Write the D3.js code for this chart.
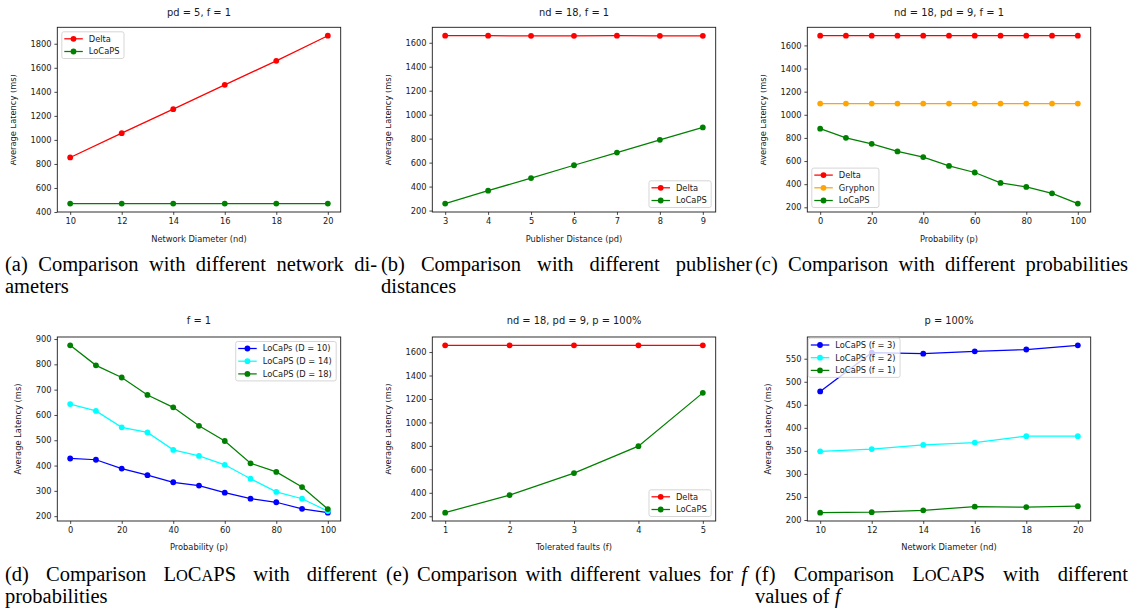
<!DOCTYPE html>
<html>
<head>
<meta charset="utf-8">
<script src="https://cdn.jsdelivr.net/npm/d3@7"></script>
<style>
  body { margin: 0; background: #fff; }
</style>
</head>
<body>
<svg id="fig" width="1135" height="610"></svg>
<script>
// ---- data ----
var ndValues = [10, 12, 14, 16, 18, 20];
var deltaByNd = [854, 1056, 1256, 1458, 1658, 1867];
var locapsByNd = [470, 470, 470, 470, 470, 470];

var pdValues = [3, 4, 5, 6, 7, 8, 9];
var deltaByPd = [1659, 1659, 1658, 1658, 1659, 1658, 1658];
var locapsByPd = [258, 366, 471, 578, 684, 790, 894];

var probValues = [0, 10, 20, 30, 40, 50, 60, 70, 80, 90, 100];
var deltaByProb = [1684, 1684, 1684, 1684, 1684, 1684, 1684, 1684, 1684, 1684, 1684];
var gryphonByProb = [1097, 1097, 1097, 1097, 1097, 1097, 1097, 1097, 1097, 1097, 1097];
var locapsByProb = [880, 801, 749, 683, 634, 558, 501, 411, 376, 321, 232];

var locapsD10 = [428, 423, 388, 362, 334, 321, 293, 269, 255, 229, 214];
var locapsD14 = [643, 616, 551, 531, 462, 438, 403, 348, 296, 269, 220];
var locapsD18 = [875, 796, 748, 679, 630, 557, 497, 409, 375, 315, 228];

var faultValues = [1, 2, 3, 4, 5];
var deltaByFault = [1657, 1657, 1657, 1657, 1657];
var locapsByFault = [231, 381, 568, 798, 1252];

var locapsF3 = [479, 563, 561, 566, 570, 579];
var locapsF2 = [349, 354, 363, 368, 382, 382];
var locapsF1 = [216, 217, 221, 229, 228, 230];

// tick labels
var ndTicks = [10, 12, 14, 16, 18, 20];
var pdTicks = [3, 4, 5, 6, 7, 8, 9];
var probTicks = [0, 20, 40, 60, 80, 100];
var faultTicks = [1, 2, 3, 4, 5];
var yTicks200 = [400, 600, 800, 1000, 1200, 1400, 1600, 1800];
var yTicksPd = [200, 400, 600, 800, 1000, 1200, 1400, 1600];
var yTicksD = [200, 300, 400, 500, 600, 700, 800, 900];
var yTicksF = [200, 250, 300, 350, 400, 450, 500, 550];

var titles = ["pd = 5, f = 1", "nd = 18, f = 1", "nd = 18, pd = 9, f = 1",
              "f = 1", "nd = 18, pd = 9, p = 100%", "p = 100%"];
var xLabels = ["Network Diameter (nd)", "Publisher Distance (pd)", "Probability (p)",
               "Probability (p)", "Tolerated faults (f)", "Network Diameter (nd)"];
var yLabel = "Average Latency (ms)";

// ---- layout ----
var rows = [
  { top: 27.3, bottom: 212, title: 16.3, xlab: 241.5 },
  { top: 337, bottom: 521, title: 323.8, xlab: 550.2 }
];

var panels = [
  { row: 0, ox: 0, x: ndValues, xTicks: ndTicks, yTicks: yTicks200, legend: "upper left",
    series: [{ name: "Delta", values: deltaByNd, color: "red" },
             { name: "LoCaPS", values: locapsByNd, color: "green" }] },
  { row: 0, ox: 375, x: pdValues, xTicks: pdTicks, yTicks: yTicksPd, legend: "lower right",
    series: [{ name: "Delta", values: deltaByPd, color: "red" },
             { name: "LoCaPS", values: locapsByPd, color: "green" }] },
  { row: 0, ox: 750, x: probValues, xTicks: probTicks, yTicks: yTicksPd, legend: "lower left",
    series: [{ name: "Delta", values: deltaByProb, color: "red" },
             { name: "Gryphon", values: gryphonByProb, color: "orange" },
             { name: "LoCaPS", values: locapsByProb, color: "green" }] },
  { row: 1, ox: 0, x: probValues, xTicks: probTicks, yTicks: yTicksD, legend: "upper right",
    series: [{ name: "LoCaPs (D = 10)", values: locapsD10, color: "blue" },
             { name: "LoCaPS (D = 14)", values: locapsD14, color: "cyan" },
             { name: "LoCaPS (D = 18)", values: locapsD18, color: "green" }] },
  { row: 1, ox: 375, x: faultValues, xTicks: faultTicks, yTicks: yTicksPd, legend: "lower right",
    series: [{ name: "Delta", values: deltaByFault, color: "red" },
             { name: "LoCaPS", values: locapsByFault, color: "green" }] },
  { row: 1, ox: 750, x: ndValues, xTicks: ndTicks, yTicks: yTicksF, legend: "upper left", legendPad: 1,
    series: [{ name: "LoCaPS (f = 3)", values: locapsF3, color: "blue" },
             { name: "LoCaPS (f = 2)", values: locapsF2, color: "cyan" },
             { name: "LoCaPS (f = 1)", values: locapsF1, color: "green" }] }
];

var svg = d3.select("#fig");
var FS = 8.3;
var SANS = '"DejaVu Sans", sans-serif';
var SERIF = '"Liberation Serif", "Times New Roman", serif';
var INK = "#1a1a1a";

function padded(ext) {
  var r = ext[1] - ext[0];
  return [ext[0] - 0.05 * r, ext[1] + 0.05 * r];
}

function sansText(sel, size) {
  return sel.style("font-family", SANS).style("font-size", size + "px").style("fill", INK);
}

panels.forEach(function(p, k) {
  var row = rows[p.row];
  var left = p.ox + 57.3, right = p.ox + 340.7;
  var g = svg.append("g");

  var xScale = d3.scaleLinear().domain(padded(d3.extent(p.x))).range([left, right]);
  var allY = [].concat.apply([], p.series.map(function(s) { return s.values; }));
  var yScale = d3.scaleLinear().domain(padded(d3.extent(allY))).range([row.bottom, row.top]);

  // axes
  var xAxis = g.append("g")
    .attr("transform", "translate(0," + row.bottom + ")")
    .call(d3.axisBottom(xScale).tickValues(p.xTicks).tickFormat(d3.format("d"))
      .tickSize(2.9).tickPadding(2.9).tickSizeOuter(0));
  var yAxis = g.append("g")
    .attr("transform", "translate(" + left + ",0)")
    .call(d3.axisLeft(yScale).tickValues(p.yTicks).tickFormat(d3.format("d"))
      .tickSize(2.9).tickPadding(2.9).tickSizeOuter(0));
  [xAxis, yAxis].forEach(function(a) {
    a.select(".domain").remove();
    a.selectAll("line").attr("stroke", INK).attr("stroke-width", 0.8);
    sansText(a.selectAll("text"), FS);
  });

  // lines + markers
  var line = d3.line()
    .x(function(d, i) { return xScale(p.x[i]); })
    .y(function(d) { return yScale(d); });
  p.series.forEach(function(s) {
    g.append("path")
      .datum(s.values)
      .attr("d", line)
      .attr("fill", "none")
      .attr("stroke", s.color)
      .attr("stroke-width", 1.25);
    g.selectAll(null)
      .data(s.values)
      .enter().append("circle")
      .attr("cx", function(d, i) { return xScale(p.x[i]); })
      .attr("cy", function(d) { return yScale(d); })
      .attr("r", 2.9)
      .attr("fill", s.color);
  });

  // frame
  g.append("rect")
    .attr("x", left).attr("y", row.top)
    .attr("width", right - left).attr("height", row.bottom - row.top)
    .attr("fill", "none").attr("stroke", INK).attr("stroke-width", 0.9);

  // title and axis labels
  sansText(g.append("text"), 9.9)
    .attr("x", (left + right) / 2).attr("y", row.title)
    .attr("text-anchor", "middle")
    .text(titles[k]);
  sansText(g.append("text"), FS)
    .attr("x", (left + right) / 2).attr("y", row.xlab)
    .attr("text-anchor", "middle")
    .text(xLabels[k]);

  // y label, cropped at the left edge of each sub-figure like the original
  var tickLeft = yAxis.node().getBBox().x + left;
  var clipId = "clip" + k;
  svg.append("clipPath").attr("id", clipId)
    .append("rect").attr("x", p.ox + 10.7).attr("y", 0).attr("width", 400).attr("height", 610);
  var ly = (row.top + row.bottom) / 2;
  var lx = tickLeft - 17.6;
  sansText(g.append("g").attr("clip-path", "url(#" + clipId + ")").append("text"), FS)
    .attr("transform", "translate(" + lx + "," + ly + ") rotate(-90)")
    .attr("text-anchor", "middle")
    .attr("dy", "0.35em")
    .text(yLabel);

  // legend
  var lg = g.append("g");
  var texts = p.series.map(function(s) {
    return sansText(lg.append("text"), FS).text(s.name);
  });
  var tw = d3.max(texts, function(t) { return t.node().getComputedTextLength(); });
  var rowH = 12.7;
  var bw = 27 + tw + 4.5;
  var bh = 14 + rowH * (p.series.length - 1);
  var pad = p.legendPad != null ? p.legendPad : 4.5;
  var bx = p.legend.indexOf("left") >= 0 ? left + pad : right - pad - bw;
  var by = p.legend.indexOf("upper") >= 0 ? row.top + pad : row.bottom - pad - bh;
  lg.insert("rect", "text")
    .attr("x", bx).attr("y", by).attr("width", bw).attr("height", bh)
    .attr("rx", 2)
    .attr("fill", "#fff").attr("fill-opacity", 0.8)
    .attr("stroke", "#ccc").attr("stroke-width", 0.8);
  p.series.forEach(function(s, i) {
    var cy = by + 7 + rowH * i;
    lg.append("line")
      .attr("x1", bx + 2.5).attr("x2", bx + 21)
      .attr("y1", cy).attr("y2", cy)
      .attr("stroke", s.color).attr("stroke-width", 1.25);
    lg.append("circle")
      .attr("cx", bx + 11.7).attr("cy", cy).attr("r", 2.9).attr("fill", s.color);
    texts[i].attr("x", bx + 27).attr("y", cy).attr("dy", "0.35em");
  });
});

// ---- captions (justified Times text) ----
var captions = [
  { x: 5, y: 271, w: 372, lines: ["(a) Comparison with different network di-", "ameters"] },
  { x: 381, y: 271, w: 371, lines: ["(b) Comparison with different publisher", "distances"] },
  { x: 755, y: 271, w: 373, lines: ["(c) Comparison with different probabilities"] },
  { x: 5, y: 581, w: 372, lines: ["(d) Comparison LoCaPS with different", "probabilities"] },
  { x: 386, y: 581, w: 361, lines: ["(e) Comparison with different values for $f"] },
  { x: 755, y: 581, w: 373, lines: ["(f) Comparison LoCaPS with different", "values of $f"] }
];
var CFS = 20.5, lineGap = 21.5;
var capG = svg.append("g");

function addWord(parent, word) {
  var t = parent.append("text")
    .style("font-family", SERIF).style("font-size", CFS + "px").style("fill", "#000");
  if (word === "LoCaPS") {
    [["L", 1], ["O", 0.8], ["C", 1], ["A", 0.8], ["PS", 1]].forEach(function(s) {
      t.append("tspan").style("font-size", (CFS * s[1]) + "px").text(s[0]);
    });
  } else if (word.charAt(0) === "$") {
    t.append("tspan").style("font-style", "italic").text(word.slice(1));
  } else {
    t.text(word);
  }
  return t;
}

captions.forEach(function(c) {
  c.lines.forEach(function(ln, li) {
    var words = ln.split(" ");
    var nodes = words.map(function(w) { return addWord(capG, w); });
    var widths = nodes.map(function(n) { return n.node().getComputedTextLength(); });
    var total = d3.sum(widths);
    var gap = (li === 0 && words.length > 1) ? (c.w - total) / (words.length - 1) : CFS * 0.25;
    var x = c.x;
    nodes.forEach(function(n, i) {
      n.attr("x", x).attr("y", c.y + li * lineGap);
      x += widths[i] + gap;
    });
  });
});
</script>
</body>
</html>
